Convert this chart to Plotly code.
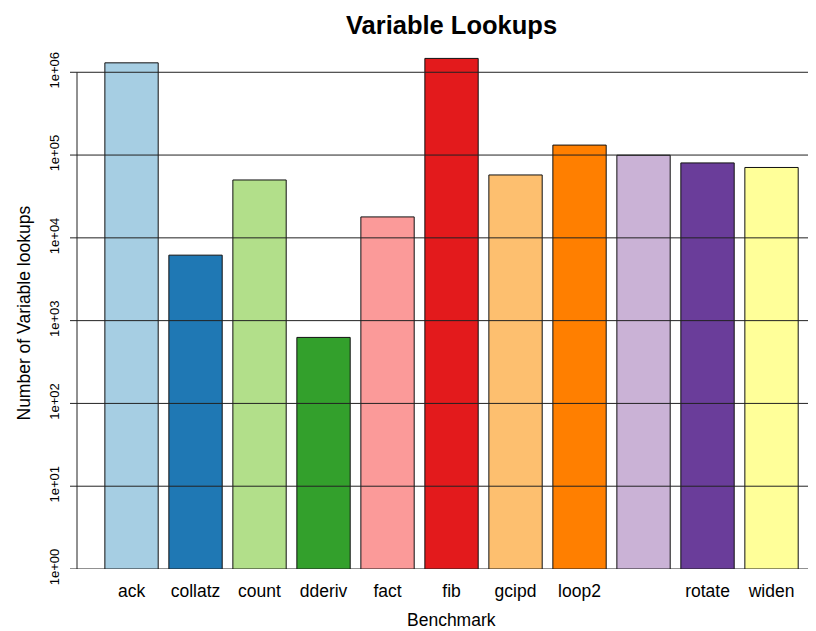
import plotly.graph_objects as go

# dados
benchmarks = ["ack", "collatz", "count", "dderiv", "fact", "fib",
              "gcipd", "loop2", "", "rotate", "widen"]
lookups = [1300000, 6180, 50000, 627, 17900, 1470000,
           57500, 132000, 99600, 80400, 70800]
cores = ["#A6CEE3", "#1F78B4", "#B2DF8A", "#33A02C", "#FB9A99", "#E31A1C",
         "#FDBF6F", "#FF7F00", "#CAB2D6", "#6A3D9A", "#FFFF99"]
tick_vals = [1, 10, 100, 1000, 10000, 100000, 1000000]
tick_text = ["1e+00", "1e+01", "1e+02", "1e+03", "1e+04", "1e+05", "1e+06"]

fonte = "Liberation Sans, Arial, Helvetica, sans-serif"
posicoes = list(range(len(benchmarks)))

# a página tem 8px de margem no body -> figura 8px menor
fig = go.Figure()
fig.add_trace(
    go.Bar(x=posicoes, y=lookups, width=1 / 1.2,
           marker=dict(color=cores, line=dict(color="#111111", width=1)),
           showlegend=False, hoverinfo="skip")
)

# linhas horizontais por cima das barras (abline)
for v in tick_vals:
    fig.add_shape(type="line", xref="paper", yref="y",
                  x0=-7 / 739, x1=1, y0=v, y1=v,
                  line=dict(color="#222222", width=1), layer="above")
# eixo y (só entre o primeiro e o último tick)
fig.add_shape(type="line", xref="paper", yref="y",
              x0=0, x1=0, y0=tick_vals[0], y1=tick_vals[-1],
              line=dict(color="#222222", width=1), layer="above")

fig.update_layout(
    width=808, height=623,
    margin=dict(l=69, r=0, t=30, b=62),
    plot_bgcolor="white", paper_bgcolor="white",
    font=dict(family=fonte, color="black"),
    title=dict(text="<b>Variable Lookups</b>", x=443.5 / 808, xanchor="center",
               y=1 - 17 / 623, yanchor="middle", font=dict(size=25.5)),
)
fig.update_xaxes(range=[-0.852, 10.695], showgrid=False, zeroline=False,
                 showline=False, ticks="", tickmode="array",
                 tickvals=posicoes, ticktext=benchmarks,
                 tickfont=dict(size=17.5), ticklabelstandoff=9)
fig.update_yaxes(type="log", range=[0, 6.414], showgrid=False, zeroline=False,
                 showline=False, ticks="", tickmode="array",
                 tickvals=tick_vals, ticktext=tick_text, tickangle=-90,
                 tickfont=dict(size=13), ticklabelstandoff=14)

fig.add_annotation(text="Benchmark", xref="paper", yref="paper",
                   x=(451.5 - 77) / 739, y=-(620 - 569) / 531,
                   xanchor="center", yanchor="middle", showarrow=False,
                   font=dict(size=17.5))
fig.add_annotation(text="Number of Variable lookups", xref="paper", yref="paper",
                   x=-(77 - 23) / 739, y=(569 - 313.5) / 531, textangle=-90,
                   xanchor="center", yanchor="middle", showarrow=False,
                   font=dict(size=17.5))

fig.write_html("out.html")
